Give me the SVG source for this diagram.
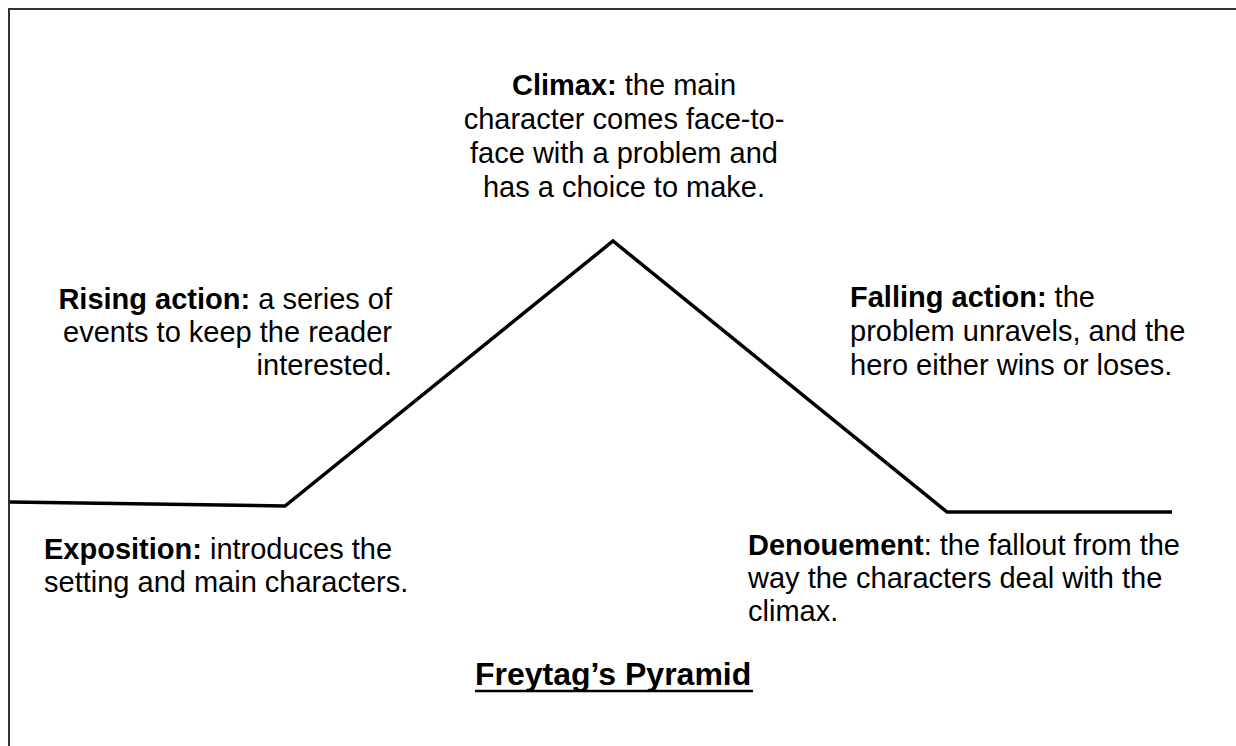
<svg xmlns="http://www.w3.org/2000/svg" width="1236" height="746" viewBox="0 0 1236 746">
<style>
.t{font-family:"Liberation Sans",Arial,sans-serif;font-size:29px;fill:#000}
.b{font-weight:bold}
.ttl{font-family:"Liberation Sans",Arial,sans-serif;font-size:32px;font-weight:bold;fill:#000}
.ln{stroke:#000;stroke-width:3.5;fill:none;stroke-linejoin:miter}
</style>
<rect width="1236" height="746" fill="#fff"/>
<path d="M9,746 V9 H1236" fill="none" stroke="#333" stroke-width="2"/>
<g id="pyramid">
<polyline class="ln" points="10,502 285,506 613,241 947,512 1172,512"/>
</g>
<g id="climax">
<text class="t" text-anchor="middle" x="624" y="95"><tspan class="b">Climax:</tspan> the main</text>
<text class="t" text-anchor="middle" x="624" y="129">character comes face-to-</text>
<text class="t" text-anchor="middle" x="624" y="163">face with a problem and</text>
<text class="t" text-anchor="middle" x="624" y="197">has a choice to make.</text>
</g>
<g id="rising">
<text class="t" text-anchor="end" x="392" y="309"><tspan class="b">Rising action:</tspan> a series of</text>
<text class="t" text-anchor="end" x="392" y="342">events to keep the reader</text>
<text class="t" text-anchor="end" x="392" y="375">interested.</text>
</g>
<g id="falling">
<text class="t" x="850" y="307"><tspan class="b">Falling action:</tspan> the</text>
<text class="t" x="850" y="341">problem unravels, and the</text>
<text class="t" x="850" y="375">hero either wins or loses.</text>
</g>
<g id="exposition">
<text class="t" x="44" y="559"><tspan class="b">Exposition:</tspan> introduces the</text>
<text class="t" x="44" y="592">setting and main characters.</text>
</g>
<g id="denouement">
<text class="t" x="748" y="555"><tspan class="b">Denouement</tspan>: the fallout from the</text>
<text class="t" x="748" y="588">way the characters deal with the</text>
<text class="t" x="748" y="621">climax.</text>
</g>
<g id="title">
<text class="ttl" x="475" y="685">Freytag’s Pyramid</text>
<line x1="475" y1="691" x2="753" y2="691" stroke="#000" stroke-width="2.5"/>
</g>
</svg>
